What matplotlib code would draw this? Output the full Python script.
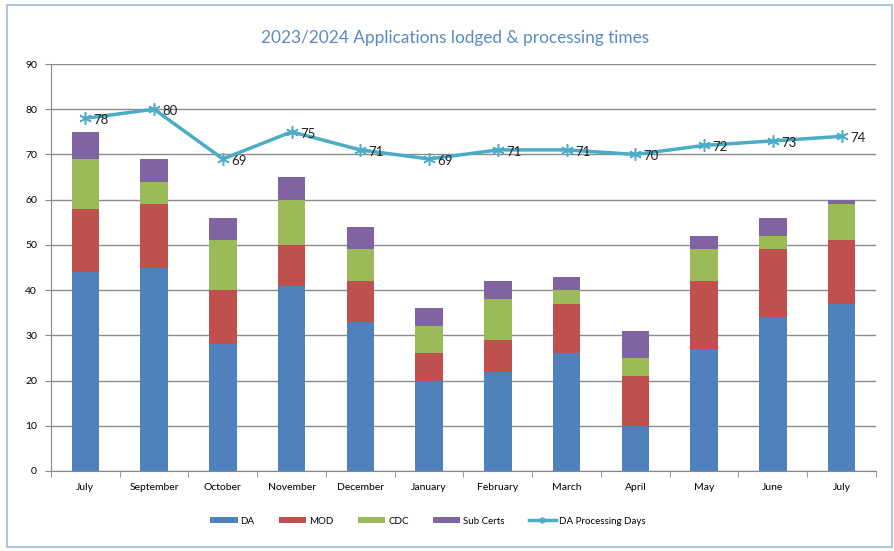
import matplotlib.pyplot as plt
import numpy as np
from matplotlib.patches import Rectangle

months = ['July', 'September', 'October', 'November', 'December', 'January',
          'February', 'March', 'April', 'May', 'June', 'July']
da = [44, 45, 28, 41, 33, 20, 22, 26, 10, 27, 34, 37]
mod = [14, 14, 12, 9, 9, 6, 7, 11, 11, 15, 15, 14]
cdc = [11, 5, 11, 10, 7, 6, 9, 3, 4, 7, 3, 8]
sub_certs = [6, 5, 5, 5, 5, 4, 4, 3, 6, 3, 4, 1]
da_days = [78, 80, 69, 75, 71, 69, 71, 71, 70, 72, 73, 74]

plt.rcParams['font.family'] = ['Lato', 'DejaVu Sans']

fig = plt.figure(figsize=(8.95, 5.51), dpi=100)
ax = fig.add_axes([51 / 895, 1 - 471 / 551, 825 / 895, 407 / 551])

# light blue frame round the whole chart
fig.patches.append(Rectangle((7 / 895, 4 / 551), 885 / 895, 542 / 551,
                             transform=fig.transFigure, fill=False,
                             edgecolor='#9DB9DE', linewidth=1.2))

x = np.arange(len(months))
w = 0.4
bottom = np.zeros(len(months))
series = [(da, 'DA', '#4F81BD'), (mod, 'MOD', '#C0504D'),
          (cdc, 'CDC', '#9BBB59'), (sub_certs, 'Sub Certs', '#8064A2')]
handles = []
for vals, name, col in series:
    handles.append(ax.bar(x, vals, w, bottom=bottom, color=col, label=name, zorder=3))
    bottom += np.array(vals)

line, = ax.plot(x, da_days, color='#4BACC6', linewidth=2.5, marker=(6, 2, 0),
                markersize=9, markeredgewidth=1.1, label='DA Processing Days', zorder=4)
handles.append(line)
for xi, v in zip(x, da_days):
    ax.text(xi + 0.12, v - 0.4, str(v), fontsize=9.5, va='center', ha='left',
            color='#222222', zorder=5)

ax.set_xlim(-0.5, 11.5)
ax.set_ylim(0, 90)
ax.set_yticks(range(0, 91, 10))
ax.set_xticks(x)
ax.set_xticklabels(months, fontsize=7.5)
ax.set_xticks(np.arange(-0.5, 12, 1), minor=True)
ax.tick_params(axis='x', which='major', length=0, pad=9)
ax.tick_params(axis='x', which='minor', length=4, color='#888888')
ax.tick_params(axis='y', labelsize=7.5, length=4, color='#888888', pad=6)
ax.yaxis.grid(True, color='#8C8C8C', linewidth=1.0, zorder=0)
for s in ['top', 'right']:
    ax.spines[s].set_visible(False)
for s in ['left', 'bottom']:
    ax.spines[s].set_color('#888888')

fig.text(455 / 895, 1 - 38 / 551, '2023/2024 Applications lodged & processing times',
         ha='center', va='center', fontsize=12.4, color='#5A8AC6')

fig.legend(handles=handles, loc='center', bbox_to_anchor=(428 / 895, 1 - 521 / 551),
           ncol=5, frameon=False, fontsize=7, handlelength=2.8, handleheight=0.6,
           columnspacing=2.5, handletextpad=0.3, markerscale=0.5)

fig.savefig('out.png', dpi=100)
